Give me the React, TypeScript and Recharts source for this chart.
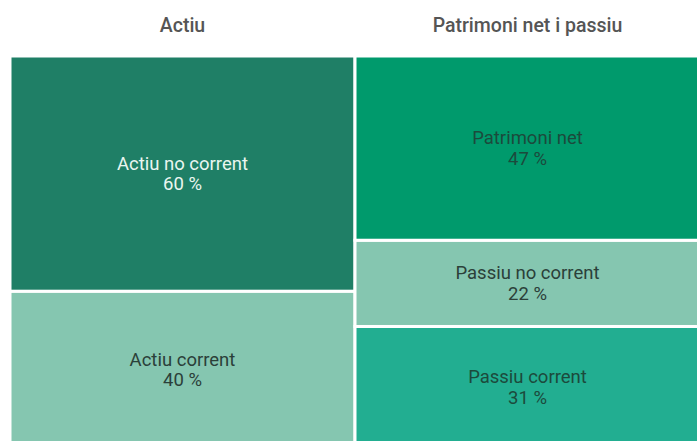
import { BarChart, Bar, XAxis, YAxis } from "recharts";

const categories = ["Actiu", "Patrimoni net i passiu"];
// stacked from the bottom up
const bottomNames = ["Actiu corrent", "Passiu corrent"];
const bottomValues = [40, 31];
const middleNames = ["Actiu no corrent", "Passiu no corrent"];
const middleValues = [60, 22];
const topNames = ["", "Patrimoni net"];
const topValues = [0, 47];

const bottomColors = ["#85c6b0", "#22ae91"];
const middleColors = ["#1f7f66", "#85c6b0"];
const topColors = ["#009a6c", "#009a6c"];
const bottomText = ["#2b4039", "#1c4a3c"];
const middleText = ["#eaf6f0", "#2b4039"];
const topText = ["#1c4a3c", "#1c4a3c"];

const data = categories.map((c, i) => ({
  name: c,
  idx: i,
  bottom: bottomValues[i],
  middle: middleValues[i],
  top: topValues[i],
}));

const font = "Roboto, 'Noto Sans', sans-serif";

function makeShape(names: string[], values: number[], fills: string[], colors: string[]) {
  return (props: any) => {
    const { x, y, width, height, payload } = props;
    const i = payload.idx;
    if (!values[i] || !height) return <g />;
    const cx = x + width / 2;
    const cy = y + height / 2;
    return (
      <g>
        <rect x={x} y={y} width={width} height={height} fill={fills[i]} stroke="#fff" strokeWidth={3} />
        <text textAnchor="middle" fontFamily={font} fontSize={18.5} fill={colors[i]}>
          <tspan x={cx} y={cy - 4}>{names[i]}</tspan>
          <tspan x={cx} y={cy + 16.5}>{`${values[i]} %`}</tspan>
        </text>
      </g>
    );
  };
}

function HeadTick(props: any) {
  const { x, payload } = props;
  return (
    <text x={x} y={32} textAnchor="middle" fontFamily={font} fontSize={19.5} fontWeight={500} fill="#555">
      {payload.value}
    </text>
  );
}

export default function App() {
  return (
    <div style={{ position: "absolute", left: 0, top: 0, width: 697, height: 441, overflow: "hidden", background: "#fff" }}>
      <BarChart
        width={710}
        height={448}
        data={data}
        margin={{ top: 55, right: 10, bottom: 0, left: 10 }}
        barCategoryGap={0}
      >
        <XAxis dataKey="name" orientation="top" axisLine={false} tickLine={false} tick={<HeadTick />} height={1} interval={0} />
        <YAxis hide domain={[0, 100]} />
        <Bar dataKey="bottom" stackId="a" isAnimationActive={false} shape={makeShape(bottomNames, bottomValues, bottomColors, bottomText)} />
        <Bar dataKey="middle" stackId="a" isAnimationActive={false} shape={makeShape(middleNames, middleValues, middleColors, middleText)} />
        <Bar dataKey="top" stackId="a" isAnimationActive={false} shape={makeShape(topNames, topValues, topColors, topText)} />
      </BarChart>
    </div>
  );
}
